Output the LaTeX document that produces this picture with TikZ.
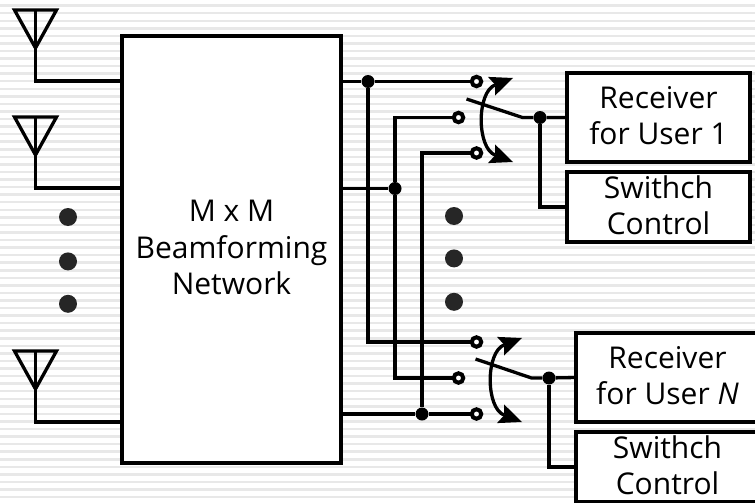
\documentclass[tikz,border=0pt]{standalone}
\usepackage{fontspec}
\setsansfont{Open Sans}
\usetikzlibrary{positioning,arrows.meta}
\newcommand{\lift}{\rule[-4pt]{0pt}{1pt}}
\tikzset{
	every picture/.style={/utils/exec={\sffamily}},
	wire/.style={line width=3.3pt, line join=miter},
	block/.style={draw, fill=white, line width=3.5pt, outer sep=0, align=center, inner sep=0,
		font=\fontsize{30}{36.5}\selectfont},
	junction/.style={circle, fill=black, inner sep=0, minimum size=13pt},
	port/.style={circle, draw, fill=white, line width=4pt, inner sep=0, minimum size=9.5pt, outer sep=0},
	bigdot/.style={circle, fill=black!85, inner sep=0, minimum size=18pt},
	sweeptip/.tip={Stealth[length=23pt,width=20pt,inset=4pt,line width=0pt]},
	sweep/.style={wire, sweeptip-sweeptip},
}

\begin{document}
\begin{tikzpicture}[x=1pt,y=-1pt]
	\useasboundingbox (0,0) rectangle (755,503);
	\fill[white] (0,0) rectangle (755,503);
	\foreach \s in {0,...,66}
		\fill[black!9] (0,{4.4+7.56*\s}) rectangle (755,{6.9+7.56*\s});

	% beamforming network and the antennas
	\node[block, minimum width=219pt, minimum height=427pt] (network) at (231.5,249.5) {M x M\\Beamforming\\Network\lift};
	\foreach \i/\y in {1/10,2/117,3/351}{
		\coordinate (tip\i) at (35.5,\y+38);
		\coordinate (feed\i) at (122,\y+71);
		\draw[wire] (tip\i) -- ++(-21,-38) -- ++(42,0) -- cycle;
		\draw[wire] (tip\i) -- ++(0,-38);
		\draw[wire] (tip\i) |- (feed\i);
	}
	\node[bigdot] (ldot1) at (68,217) {};
	\node[bigdot, below=26pt of ldot1] (ldot2) {};
	\node[bigdot, below=24pt of ldot2] (ldot3) {};
	\node[bigdot] (rdot1) at (454,216) {};
	\node[bigdot, below=24pt of rdot1] (rdot2) {};
	\node[bigdot, below=25pt of rdot2] (rdot3) {};

	% receivers and switch controls
	\node[block, minimum width=183pt, minimum height=89pt] (receiver1) at (658.5,117.5) {Receiver\\for User 1\lift};
	\node[block, minimum width=183pt, minimum height=70pt, below=10pt of receiver1] (control1) {Swithch\\Control\lift};
	\node[block, minimum width=183pt, minimum height=89pt] (receiverN) at (667.5,377.5) {Receiver\\for User \textit{N}\lift};
	\node[block, minimum width=183pt, minimum height=70pt, below=10pt of receiverN] (controlN) {Swithch\\Control\lift};

	% switch contacts
	\node[port] (a1) at (476.5,81.5) {};
	\node[port] (a2) at (458.5,117.5) {};
	\node[port] (a3) at (476.5,153) {};
	\node[port] (b1) at (476.5,342) {};
	\node[port] (b2) at (458.5,378) {};
	\node[port] (b3) at (476.5,414) {};

	\node[junction] (j1) at (368,81.5) {};
	\node[junction] (j2) at (395,188.5) {};
	\node[junction] (j3) at (422,414) {};
	\node[junction] (s1) at (540,117.5) {};
	\node[junction] (sN) at (549,378) {};

	\draw[wire] (network.east |- j1) -- (j1) -- (a1);
	\draw[wire] (network.east |- j2) -- (j2);
	\draw[wire] (network.east |- j3) -- (j3) -- (b3);
	\draw[wire] (j1) |- (b1);
	\draw[wire] (a2) -| (j2) |- (b2);
	\draw[wire] (a3) -| (j3);

	% switch arms
	\coordinate (arm1) at (466.5,99);
	\coordinate (hinge1) at (522.5,117.5);
	\coordinate (armN) at (475.5,359);
	\coordinate (hingeN) at (531.5,378);
	\draw[wire] (arm1) -- (hinge1) -- (s1) -- (receiver1.west);
	\draw[wire] (armN) -- (hingeN) -- (sN) -- (receiverN.west);
	\draw[wire] (s1) |- (control1.west);
	\draw[wire] (sN) |- (controlN.west);

	\coordinate (up1) at (513,78);
	\coordinate (down1) at (513,162);
	\coordinate (upN) at (522,338);
	\coordinate (downN) at (522,422);
	\draw[sweep] (up1) .. controls (476.5,92) and (476.5,148) .. (down1);
	\draw[sweep] (upN) .. controls (485.5,352) and (485.5,408) .. (downN);
\end{tikzpicture}
\end{document}
